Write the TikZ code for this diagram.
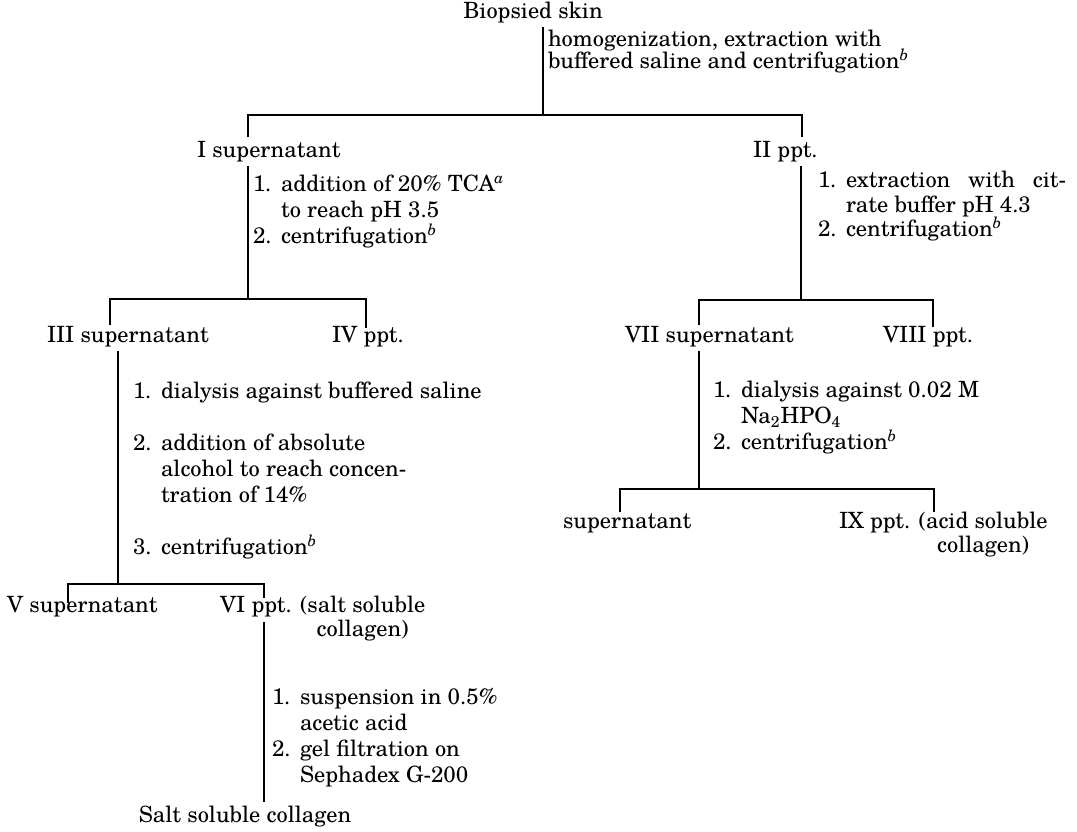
\documentclass[tikz,border=0pt]{standalone}
\usepackage{fontspec}
\setmainfont{texgyreschola}[Extension=.otf,UprightFont=*-regular,ItalicFont=*-italic,BoldFont=*-bold,BoldItalicFont=*-bolditalic]
\newcommand\stepno[1]{\makebox[14pt][l]{#1}}
\newcommand\fn[1]{\textsuperscript{\textit{#1}}}
\newcommand\tightlines{\lineskiplimit=-20pt\relax\lineskip=0pt\relax}
\begin{document}
\begin{tikzpicture}[x=0.5pt,y=-0.5pt,
  txt/.style={inner sep=0pt, outer xsep=0pt, outer ysep=2pt, anchor=mid west, font=\fontsize{11.2}{13}\selectfont},
  lbl/.style={txt, align=left},
  ln/.style={line width=0.8pt}]
\useasboundingbox (0,0) rectangle (1077,831);

% nodes (multi-line labels are placed by their last line)
\node[txt, anchor=mid] (skin) at (533,14) {Biopsied skin};
\node[lbl, font=\fontsize{11.2}{11.2}\selectfont\tightlines] (hom) at (548,64) {homogenization, extraction with\\buffered saline and centrifugation\fn{b}};
\node[txt] (I) at (197,153) {I supernatant};
\node[txt] (II) at (753,153) {II ppt.};
\node[lbl] (lTCA) at (253,239) {\stepno{1.}addition of 20\% TCA\fn{a}\\\stepno{}to reach pH 3.5\\\stepno{2.}centrifugation\fn{b}};
\node[lbl, font=\fontsize{11.2}{12.25}\selectfont] (lcit) at (818,232) {\stepno{1.}\makebox[110pt][s]{extraction with cit-}\\\stepno{}rate buffer pH 4.3\\\stepno{2.}centrifugation\fn{b}};
\node[txt] (III) at (47,338) {III supernatant};
\node[txt] (IV) at (332,338) {IV ppt.};
\node[txt] (VII) at (625,338) {VII supernatant};
\node[txt] (VIII) at (883,338) {VIII ppt.};
\node[lbl] (lIII) at (133,550) {\stepno{1.}dialysis against buffered saline\\[13pt]\stepno{2.}addition of absolute\\\stepno{}alcohol to reach concen-\\\stepno{}tration of 14\%\\[13pt]\stepno{3.}centrifugation\fn{b}};
\node[lbl] (lVII) at (713,445) {\stepno{1.}dialysis against 0.02 M\\\stepno{}Na\textsubscript{2}HPO\textsubscript{4}\\\stepno{2.}centrifugation\fn{b}};
\node[txt] (sup) at (563,524) {supernatant};
\node[txt, font=\fontsize{11.2}{12}\selectfont] (IX) at (839,524) {IX ppt. \begin{tabular}[t]{@{}c@{}}(acid soluble\\collagen)\end{tabular}};
\node[txt] (V) at (7,608) {V supernatant};
\node[txt, font=\fontsize{11.2}{12}\selectfont] (VI) at (220,608) {VI ppt. \begin{tabular}[t]{@{}c@{}}(salt soluble\\collagen)\end{tabular}};
\node[lbl] (lVI) at (272,778) {\stepno{1.}suspension in 0.5\%\\\stepno{}acetic acid\\\stepno{2.}gel filtration on\\\stepno{}Sephadex G-200};
\node[txt, anchor=mid] (salt) at (245,818) {Salt soluble collagen};

% junctions and drop ends
\coordinate (j1) at (543,115);
\coordinate (d1a) at (248,137);
\coordinate (d1b) at (802,137);
\coordinate (j2) at (248,299);
\coordinate (d2a) at (110,325);
\coordinate (d2b) at (366,328);
\coordinate (j3) at (801,300);
\coordinate (d3a) at (699,325);
\coordinate (d3b) at (933,327);
\coordinate (j4) at (118,584);
\coordinate (d4a) at (68,603);
\coordinate (d4b) at (264,598);
\coordinate (j5) at (264,622);
\coordinate (j6) at (699,489);
\coordinate (d6a) at (620,512);
\coordinate (d6b) at (934,512);

% connectors
\draw[ln] (skin.south -| j1) -- (j1);
\draw[ln] (d1a) |- (j1) -| (d1b);
\draw[ln] (I.south -| j2) -- (j2);
\draw[ln] (d2a) |- (j2) -| (d2b);
\draw[ln] (II.south -| j3) -- (j3);
\draw[ln] (d3a) |- (j3) -| (d3b);
\draw[ln] (III.south -| j4) -- (j4);
\draw[ln] (d4a) |- (j4) -| (d4b);
\draw[ln] (j5) -- (salt.north -| j5);
\draw[ln] (VII.south -| j6) -- (j6);
\draw[ln] (d6a) |- (j6) -| (d6b);
\end{tikzpicture}
\end{document}
